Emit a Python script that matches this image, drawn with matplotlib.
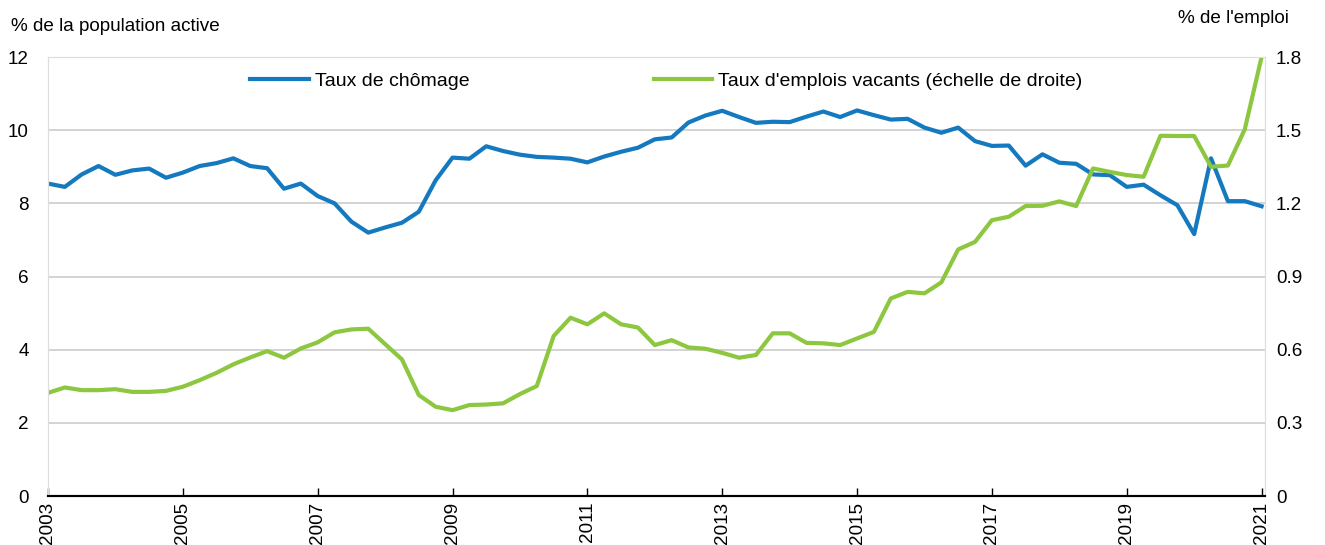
import numpy as np
import matplotlib.pyplot as plt

plt.rcParams['font.family'] = ['Liberation Sans', 'DejaVu Sans']

# Quarterly data, 2003Q1 to 2021Q1
years = 2003 + np.arange(73) * 0.25

# Taux de chômage (% de la population active, left axis)
chomage = [8.54, 8.45, 8.79, 9.02, 8.78, 8.90, 8.95, 8.70, 8.84, 9.02,
           9.10, 9.23, 9.02, 8.96, 8.40, 8.54, 8.20, 8.00, 7.50, 7.20,
           7.34, 7.47, 7.77, 8.63, 9.25, 9.22, 9.56, 9.43, 9.33, 9.27,
           9.25, 9.22, 9.12, 9.28, 9.41, 9.52, 9.75, 9.80, 10.21, 10.40,
           10.53, 10.36, 10.20, 10.23, 10.22, 10.37, 10.51, 10.36, 10.54, 10.41,
           10.29, 10.31, 10.07, 9.93, 10.07, 9.70, 9.57, 9.58, 9.03, 9.34,
           9.11, 9.08, 8.79, 8.77, 8.45, 8.51, 8.22, 7.95, 7.16, 9.23,
           8.06, 8.06, 7.92]

# Taux d'emplois vacants (% de l'emploi, right axis)
vacants = [0.423, 0.445, 0.434, 0.434, 0.438, 0.427, 0.427, 0.431, 0.448, 0.475,
           0.505, 0.540, 0.568, 0.594, 0.567, 0.605, 0.630, 0.671, 0.683, 0.686,
           0.623, 0.560, 0.414, 0.366, 0.352, 0.373, 0.375, 0.380, 0.418, 0.451,
           0.656, 0.731, 0.704, 0.749, 0.704, 0.691, 0.619, 0.639, 0.609, 0.604,
           0.587, 0.567, 0.578, 0.667, 0.667, 0.628, 0.626, 0.619, 0.646, 0.673,
           0.810, 0.837, 0.831, 0.876, 1.011, 1.042, 1.131, 1.145, 1.189, 1.190,
           1.208, 1.189, 1.343, 1.329, 1.316, 1.309, 1.477, 1.476, 1.476, 1.350,
           1.355, 1.503, 1.800]

xticks = list(range(2003, 2022, 2))
blue = '#1479BF'
green = '#8DC63F'
fs = 13.6

fig = plt.figure(figsize=(13.25, 5.45), dpi=100)
ax = fig.add_axes([0.0362, 0.0899, 0.9185, 0.8055])
ax2 = ax.twinx()

l1, = ax.plot(years, chomage, color=blue, lw=3, solid_joinstyle='round')
l2, = ax2.plot(years, vacants, color=green, lw=3, solid_joinstyle='round')

ax.set_xlim(2003, 2021.05)
ax.set_ylim(0, 12)
ax2.set_ylim(0, 1.8)
ax.set_yticks(range(0, 13, 2))
ax2.set_yticks(np.arange(0, 1.81, 0.3))
ax2.set_yticklabels(['0', '0.3', '0.6', '0.9', '1.2', '1.5', '1.8'])
ax.set_xticks(xticks)
ax.set_xticklabels([str(y) for y in xticks], rotation=90)

ax.grid(axis='y', color='#CCCCCC', lw=1.2)
ax.set_axisbelow(True)
for a in (ax, ax2):
    for s in ('top', 'left', 'right'):
        a.spines[s].set_color('#DDDDDD')
    a.spines['bottom'].set_color('black')
    a.spines['bottom'].set_linewidth(1.5)
ax.tick_params(axis='x', direction='in', length=6, width=1, labelsize=fs, pad=4)
ax.tick_params(axis='y', length=0, labelsize=fs, pad=14)
ax2.tick_params(axis='y', length=0, labelsize=fs, pad=8)

fig.text(0.008, 0.935, '% de la population active', fontsize=fs, ha='left', va='bottom')
fig.text(0.973, 0.95, "% de l'emploi", fontsize=fs, ha='right', va='bottom')

ax.legend([l1, l2], ['Taux de chômage', "Taux d'emplois vacants (échelle de droite)"],
          loc='upper left', bbox_to_anchor=(0.152, 1.005), ncol=2, frameon=False,
          fontsize=14, handlelength=3.0, handletextpad=0.3, columnspacing=9.5)

fig.savefig('out.png', dpi=100)
